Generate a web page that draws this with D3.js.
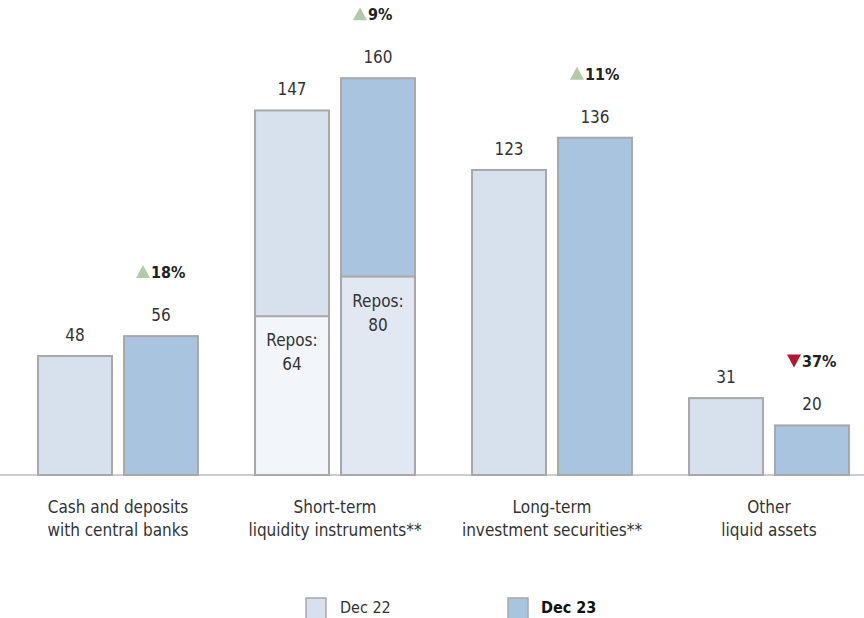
<!DOCTYPE html>
<html>
<head>
<meta charset="utf-8">
<script src="https://cdn.jsdelivr.net/npm/d3@7"></script>
<style>
  body { margin: 0; background: #fff; }
  svg { display: block; font-family: "Liberation Sans Narrow", "DejaVu Sans Condensed", "Roboto", sans-serif; }
</style>
</head>
<body>
<svg id="chart" width="864" height="618"></svg>
<script>
// data
let categories = ["Cash", "Short", "Long", "Other"];
let catLabels = [
    ["Cash and deposits", "with central banks"],
    ["Short-term", "liquidity instruments**"],
    ["Long-term", "investment securities**"],
    ["Other", "liquid assets"]
];
let series = ["Dec 22", "Dec 23"];
let dec22 = [48, 147, 123, 31];
let dec23 = [56, 160, 136, 20];
let repos22 = [0, 64, 0, 0];
let repos23 = [0, 80, 0, 0];
let changes = [18, 9, 11, -37];

let chart = d3.select("#chart");
let chart_width = 864;
let baseY = 475;

let colors = { "Dec 22": "#d6e1ed", "Dec 23": "#a9c4df" };
let reposColors = { "Dec 22": "#f2f6fa", "Dec 23": "#e1e8f1" };

// group scale
let x0 = d3.scaleBand()
    .domain(categories)
    .range([9.5, 877.5])
    .paddingInner(0.263)
    .paddingOuter(0.1315);

// bar scale within group
let x1 = d3.scaleBand()
    .domain(series)
    .range([0, x0.bandwidth()])
    .paddingInner(0.14);

let y = d3.scaleLinear()
    .domain([0, 160])
    .range([baseY, baseY - 160 * 2.48]);

// flat rows
let rows = [];
categories.forEach(function(c, i) {
    rows.push({ cat: c, s: "Dec 22", v: dec22[i], repos: repos22[i], i: i });
    rows.push({ cat: c, s: "Dec 23", v: dec23[i], repos: repos23[i], i: i });
});

// axis line
chart.append("line")
    .attr("x1", 0).attr("x2", chart_width)
    .attr("y1", baseY).attr("y2", baseY)
    .attr("stroke", "#bdbdbd")
    .attr("stroke-width", 1.5);

// bars
let bars = chart.selectAll(".bar")
    .data(rows)
    .enter()
    .append("g")
    .attr("transform", function(d) { return "translate(" + (x0(d.cat) + x1(d.s)) + ",0)"; });

bars.append("rect")
    .attr("x", 0)
    .attr("y", function(d) { return y(d.v); })
    .attr("width", x1.bandwidth())
    .attr("height", function(d) { return y(0) - y(d.v); })
    .attr("fill", function(d) { return colors[d.s]; })
    .attr("stroke", "#a8a8a8")
    .attr("stroke-width", 2);

// repos segments
bars.filter(function(d) { return d.repos > 0; })
    .append("rect")
    .attr("x", 0)
    .attr("y", function(d) { return y(d.repos); })
    .attr("width", x1.bandwidth())
    .attr("height", function(d) { return y(0) - y(d.repos); })
    .attr("fill", function(d) { return reposColors[d.s]; })
    .attr("stroke", "#a8a8a8")
    .attr("stroke-width", 2);

let reposText = bars.filter(function(d) { return d.repos > 0; })
    .append("text")
    .attr("x", x1.bandwidth() / 2)
    .attr("y", function(d) { return y(d.repos) + 30; })
    .attr("text-anchor", "middle")
    .style("font-size", "17px")
    .style("fill", "#333");
reposText.append("tspan").attr("x", x1.bandwidth() / 2).text("Repos:");
reposText.append("tspan").attr("x", x1.bandwidth() / 2).attr("dy", 24).text(function(d) { return d.repos; });

// value labels
bars.append("text")
    .attr("x", x1.bandwidth() / 2)
    .attr("y", function(d) { return y(d.v) - 15; })
    .attr("text-anchor", "middle")
    .style("font-size", "17px")
    .style("fill", "#333")
    .text(function(d) { return d.v; });

// change labels above Dec 23 bars
let chg = chart.selectAll(".chg")
    .data(categories)
    .enter()
    .append("g")
    .attr("transform", function(d, i) {
        let cx = x0(d) + x1("Dec 23") + x1.bandwidth() / 2;
        return "translate(" + cx + "," + (y(dec23[i]) - 64) + ")";
    });

chg.append("path")
    .attr("d", function(d, i) {
        return changes[i] >= 0 ? "M-25,6 L-18,-7 L-11,6 Z" : "M-25,-7 L-11,-7 L-18,6 Z";
    })
    .attr("fill", function(d, i) { return changes[i] >= 0 ? "#b4c8aa" : "#b3172f"; });

chg.append("text")
    .attr("x", -10)
    .attr("y", 6)
    .style("font-size", "16px")
    .style("font-weight", "bold")
    .style("fill", "#222")
    .text(function(d, i) { return Math.abs(changes[i]) + "%"; });

// category labels
let cl = chart.selectAll(".cat")
    .data(categories)
    .enter()
    .append("text")
    .attr("text-anchor", "middle")
    .style("font-size", "17px")
    .style("fill", "#333");
cl.append("tspan")
    .attr("x", function(d) { return x0(d) + x0.bandwidth() / 2; })
    .attr("y", 513)
    .text(function(d, i) { return catLabels[i][0]; });
cl.append("tspan")
    .attr("x", function(d) { return x0(d) + x0.bandwidth() / 2; })
    .attr("y", 536)
    .text(function(d, i) { return catLabels[i][1]; });

// legend
let legendX = [306, 508];
let lg = chart.selectAll(".legend")
    .data(series)
    .enter()
    .append("g")
    .attr("transform", function(d, i) { return "translate(" + legendX[i] + ",598)"; });
lg.append("rect")
    .attr("width", 20)
    .attr("height", 22)
    .attr("fill", function(d) { return colors[d]; })
    .attr("stroke", "#a8a8a8")
    .attr("stroke-width", 1.5);
lg.append("text")
    .attr("x", function(d, i) { return i == 0 ? 34 : 33; })
    .attr("y", 15)
    .style("font-size", "16px")
    .style("font-weight", function(d, i) { return i == 1 ? "bold" : "normal"; })
    .style("fill", function(d, i) { return i == 1 ? "#111" : "#333"; })
    .text(function(d) { return d; });
</script>
</body>
</html>
